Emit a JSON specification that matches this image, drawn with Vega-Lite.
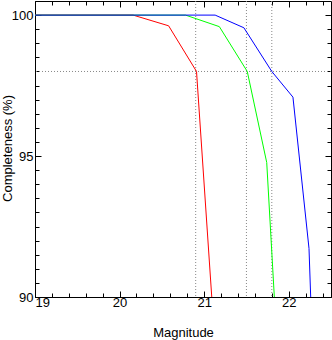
{
  "$schema": "https://vega.github.io/schema/vega-lite/v6.json",
  "width": 296,
  "height": 296,
  "autosize": {"type": "none"},
  "padding": {"left": 35, "top": 1, "right": 1, "bottom": 43},
  "background": "white",
  "config": {
    "view": {"stroke": "black", "strokeWidth": 1},
    "font": "Liberation Sans",
    "axis": {
      "domainColor": "black",
      "tickColor": "black",
      "labelColor": "black",
      "titleColor": "black",
      "labelFont": "Liberation Sans",
      "titleFont": "Liberation Sans",
      "labelFontSize": 13,
      "titleFontSize": 13,
      "titleFontWeight": "normal",
      "grid": false
    }
  },
  "resolve": {"axis": {"x": "independent", "y": "independent"}},
  "layer": [
    {
      "data": {"values": [{"y": 98}]},
      "mark": {"type": "rule", "color": "#888888", "strokeWidth": 1, "strokeDash": [1, 2]},
      "encoding": {
        "y": {
          "field": "y", "type": "quantitative",
          "scale": {"domain": [90, 100.5], "nice": false, "zero": false},
          "axis": {
            "orient": "right", "title": null, "labels": false, "domain": false,
            "values": [90, 90.5, 91, 91.5, 92, 92.5, 93, 93.5, 94, 94.5, 95, 95.5, 96, 96.5, 97, 97.5, 98, 98.5, 99, 99.5, 100],
            "tickSize": {"condition": {"test": "datum.value % 5 == 0", "value": -6}, "value": -4}
          }
        }
      }
    },
    {
      "data": {"values": [{"x": 20.9}, {"x": 21.5}, {"x": 21.8}]},
      "mark": {"type": "rule", "color": "#888888", "strokeWidth": 1, "strokeDash": [1, 2]},
      "encoding": {
        "x": {
          "field": "x", "type": "quantitative",
          "scale": {"domain": [19, 22.5], "nice": false, "zero": false},
          "axis": {
            "orient": "top", "title": null, "labels": false, "domain": false,
            "values": [19, 19.2, 19.4, 19.6, 19.8, 20, 20.2, 20.4, 20.6, 20.8, 21, 21.2, 21.4, 21.6, 21.8, 22, 22.2, 22.4],
            "tickSize": {"condition": {"test": "abs(datum.value - round(datum.value)) < 0.01", "value": -6}, "value": -4}
          }
        }
      }
    },
    {
      "data": {"values": [
        {"s": "a", "o": 1, "mag": 19, "c": 100},
        {"s": "a", "o": 2, "mag": 20.16, "c": 100},
        {"s": "a", "o": 3, "mag": 20.58, "c": 99.62},
        {"s": "a", "o": 4, "mag": 20.91, "c": 98.0},
        {"s": "a", "o": 5, "mag": 21.09, "c": 90},
        {"s": "b", "o": 1, "mag": 19, "c": 100},
        {"s": "b", "o": 2, "mag": 20.78, "c": 100},
        {"s": "b", "o": 3, "mag": 21.18, "c": 99.59},
        {"s": "b", "o": 4, "mag": 21.51, "c": 98.0},
        {"s": "b", "o": 5, "mag": 21.74, "c": 94.77},
        {"s": "b", "o": 6, "mag": 21.83, "c": 90},
        {"s": "c", "o": 1, "mag": 19, "c": 100},
        {"s": "c", "o": 2, "mag": 21.13, "c": 100},
        {"s": "c", "o": 3, "mag": 21.47, "c": 99.55},
        {"s": "c", "o": 4, "mag": 21.8, "c": 98.0},
        {"s": "c", "o": 5, "mag": 22.05, "c": 97.09},
        {"s": "c", "o": 6, "mag": 22.24, "c": 91.72},
        {"s": "c", "o": 7, "mag": 22.26, "c": 90}
      ]},
      "mark": {"type": "line", "strokeWidth": 1, "clip": true},
      "encoding": {
        "x": {
          "field": "mag", "type": "quantitative",
          "scale": {"domain": [19, 22.5], "nice": false, "zero": false},
          "axis": {
            "orient": "bottom", "title": "Magnitude",
            "values": [19, 19.2, 19.4, 19.6, 19.8, 20, 20.2, 20.4, 20.6, 20.8, 21, 21.2, 21.4, 21.6, 21.8, 22, 22.2, 22.4],
            "labelExpr": "abs(datum.value - round(datum.value)) < 0.01 ? format(datum.value, 'd') : ''",
            "tickSize": {"condition": {"test": "abs(datum.value - round(datum.value)) < 0.01", "value": -6}, "value": -4},
            "labelPadding": 5,
            "labelBaseline": "top",
            "titleX": 148, "titleY": 39, "titleBaseline": "alphabetic", "titleAnchor": null
          }
        },
        "y": {
          "field": "c", "type": "quantitative",
          "scale": {"domain": [90, 100.5], "nice": false, "zero": false},
          "axis": {
            "orient": "left", "title": "Completeness (%)",
            "values": [90, 90.5, 91, 91.5, 92, 92.5, 93, 93.5, 94, 94.5, 95, 95.5, 96, 96.5, 97, 97.5, 98, 98.5, 99, 99.5, 100],
            "labelExpr": "datum.value % 5 == 0 ? format(datum.value, 'd') : ''",
            "tickSize": {"condition": {"test": "datum.value % 5 == 0", "value": -6}, "value": -4},
            "labelPadding": 8,
            "labelBaseline": "middle",
            "titleX": -24, "titleY": 147, "titleBaseline": "alphabetic", "titleAngle": 270
          }
        },
        "color": {
          "field": "s", "type": "nominal", "legend": null,
          "scale": {"domain": ["a", "b", "c"], "range": ["#ff0000", "#00ff00", "#0000ff"]}
        },
        "order": {"field": "o", "type": "quantitative"}
      }
    }
  ]
}
